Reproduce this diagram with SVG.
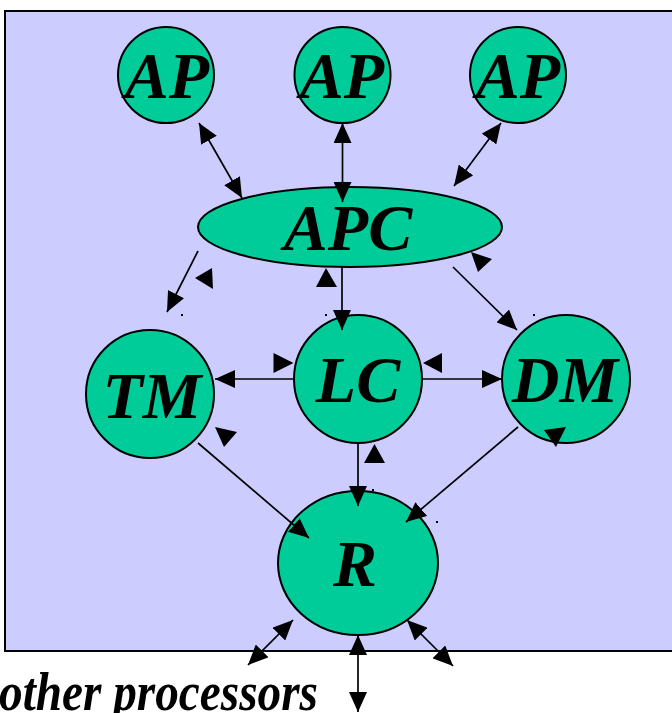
<svg xmlns="http://www.w3.org/2000/svg" width="672" height="713" viewBox="0 0 672 713">
<defs>
<marker id="ah" markerUnits="userSpaceOnUse" markerWidth="20" markerHeight="18" refX="20" refY="9" orient="auto-start-reverse" viewBox="0 0 20 18">
<path d="M0,0 L20,9 L0,18 z" fill="#000"/>
</marker>
<style>
.bg{fill:#CCCCFF;stroke:#000;stroke-width:2}
.nd{fill:#00CC99;stroke:#000;stroke-width:2}
.lb{font-family:"Liberation Serif","Times New Roman",serif;font-weight:bold;font-style:italic;font-size:66px;fill:#000;text-anchor:middle}
.ln{stroke:#000;stroke-width:1.7;fill:none}
.one{marker-end:url(#ah)}
.two{marker-start:url(#ah);marker-end:url(#ah)}
.tri{fill:#000}
.dot{fill:#000}
</style>
</defs>
<rect class="bg" x="5" y="11" width="680" height="640"/>
<g id="AP1"><ellipse class="nd" cx="166" cy="75" rx="48" ry="48"/><text class="lb" x="167" y="98">AP</text></g>
<g id="AP2"><ellipse class="nd" cx="342.5" cy="75" rx="48" ry="48"/><text class="lb" x="342" y="98">AP</text></g>
<g id="AP3"><ellipse class="nd" cx="518" cy="75" rx="48" ry="48"/><text class="lb" x="518" y="98">AP</text></g>
<g id="APC"><ellipse class="nd" cx="350" cy="227" rx="152" ry="40"/><text class="lb" x="348" y="250">APC</text></g>
<g id="TM"><ellipse class="nd" cx="150" cy="394" rx="64" ry="64"/><text class="lb" x="152" y="418">TM</text></g>
<g id="LC"><ellipse class="nd" cx="358" cy="379" rx="64" ry="64"/><text class="lb" x="358" y="402">LC</text></g>
<g id="DM"><ellipse class="nd" cx="566" cy="379" rx="64" ry="64"/><text class="lb" x="565" y="402">DM</text></g>
<g id="R"><ellipse class="nd" cx="358" cy="563" rx="80" ry="72"/><text class="lb" x="355" y="586">R</text></g>
<g id="connectors">
<line class="ln two" x1="199" y1="123" x2="242" y2="198"/>
<line class="ln two" x1="342.5" y1="123" x2="342.5" y2="202"/>
<line class="ln two" x1="501" y1="123" x2="454" y2="186"/>
<line class="ln one" x1="198" y1="251" x2="167" y2="312"/>
<line class="ln one" x1="342" y1="267" x2="342" y2="330"/>
<line class="ln one" x1="453" y1="267" x2="517" y2="330"/>
<line class="ln one" x1="294" y1="379" x2="215" y2="379"/>
<line class="ln one" x1="422" y1="379" x2="502" y2="379"/>
<line class="ln one" x1="358" y1="443" x2="358" y2="506"/>
<line class="ln one" x1="198" y1="443" x2="309" y2="538"/>
<line class="ln one" x1="518" y1="427" x2="406" y2="522"/>
<line class="ln two" x1="293" y1="620" x2="248" y2="665"/>
<line class="ln two" x1="358" y1="635" x2="358" y2="712"/>
<line class="ln two" x1="407" y1="620" x2="453" y2="666"/>
<polygon class="tri" points="195,278 212,268 213,289"/>
<polygon class="tri" points="326,268 316,287 337,287"/>
<polygon class="tri" points="471,252 492,259 478,272"/>
<polygon class="tri" points="293.5,363 273.5,353 273.5,373"/>
<polygon class="tri" points="423,363 442,353 442,373"/>
<polygon class="tri" points="374.5,444 364,463 385,463"/>
<polygon class="tri" points="215,427 237,432 224,447"/>
<polygon class="tri" points="544,430 566,427 556,447"/>
<rect class="dot" x="181" y="314" width="2" height="2"/>
<rect class="dot" x="325" y="314" width="2" height="2"/>
<rect class="dot" x="533" y="314" width="2" height="2"/>
<rect class="dot" x="372" y="489" width="2" height="2"/>
<rect class="dot" x="436" y="521" width="2" height="2"/>
</g>
<text x="-1" y="710" textLength="319" lengthAdjust="spacingAndGlyphs" style="font-family:'Liberation Serif','Times New Roman',serif;font-weight:bold;font-style:italic;font-size:54px;fill:#000">other processors</text>
</svg>
